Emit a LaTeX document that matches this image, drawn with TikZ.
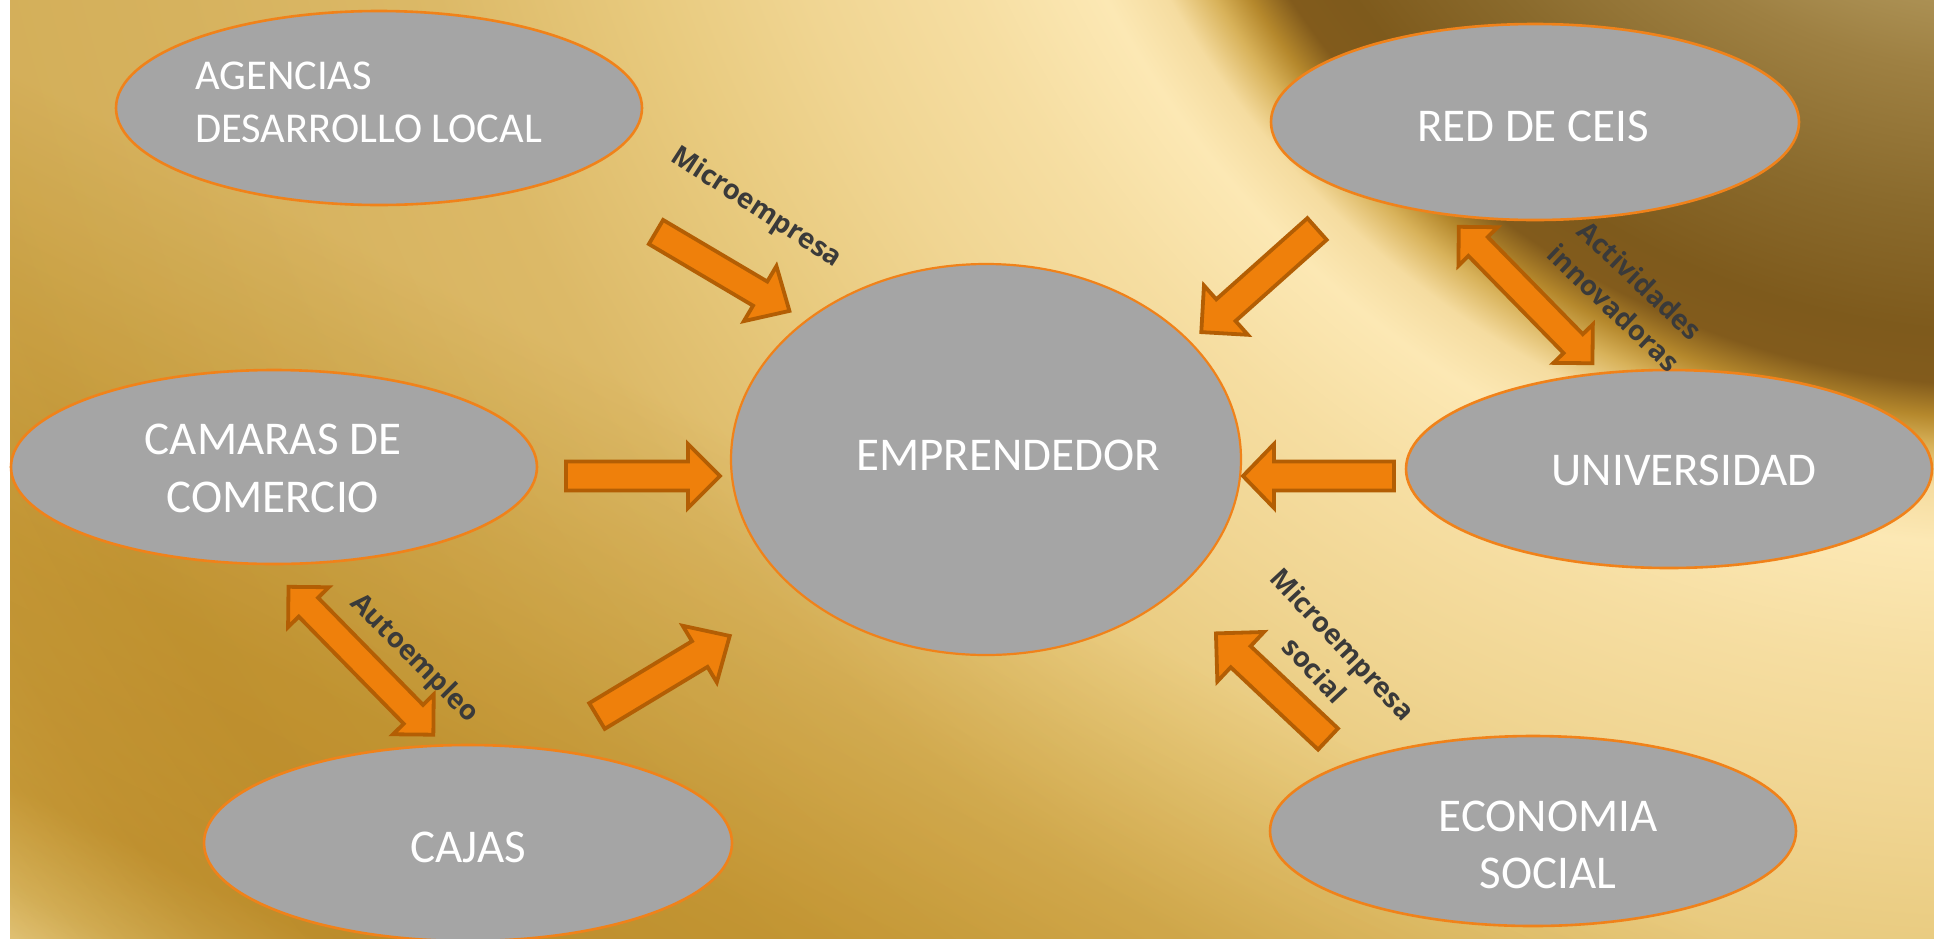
\documentclass[tikz,border=0pt]{standalone}
\usepackage{fontspec}
\setmainfont{Carlito}
\newfontfamily\lblfont{Open Sans}
\usetikzlibrary{shapes.geometric}
\definecolor{ellfill}{HTML}{A5A5A5}
\definecolor{elledge}{HTML}{F0821A}
\definecolor{arrfill}{HTML}{EF800B}
\definecolor{arredge}{HTML}{B35E04}
\definecolor{lblcol}{HTML}{3A3A3A}
% radial background stops
\definecolor{rA}{HTML}{C6AE74}
\definecolor{rB}{HTML}{B39A5E}
\definecolor{rC}{HTML}{9E8042}
\definecolor{rD}{HTML}{8A6A2C}
\definecolor{rE}{HTML}{7E5A1C}
\definecolor{rF}{HTML}{825B1C}
\definecolor{rG}{HTML}{B5882C}
\definecolor{rH}{HTML}{D8B25A}
\definecolor{rI}{HTML}{F5DCA0}
\definecolor{rJ}{HTML}{FCE8B4}
\definecolor{rK}{HTML}{F6DEA2}
\definecolor{rL}{HTML}{F0D592}
\definecolor{rM}{HTML}{E8CA7E}
\definecolor{rN}{HTML}{DCB967}
\definecolor{rO}{HTML}{D6B25E}
\definecolor{rP}{HTML}{D3AE58}
\definecolor{rQ}{HTML}{D8B564}
\definecolor{rR}{HTML}{E6C882}
\definecolor{rS}{HTML}{E8CA86}
% multiply overlay stops
\definecolor{mA}{RGB}{250,248,232}
\definecolor{mB}{RGB}{238,228,180}
\definecolor{mC}{RGB}{226,204,122}
\definecolor{mD}{RGB}{232,214,140}
\definecolor{mE}{RGB}{244,236,200}
\definecolor{mF}{RGB}{255,255,255}
\pgfdeclareradialshading{bgrad}{\pgfpoint{0bp}{0bp}}{%
color(0bp)=(rA); color(4.5bp)=(rB); color(5.6bp)=(rC); color(7bp)=(rD);
color(8.2bp)=(rE); color(8.72bp)=(rF); color(9.05bp)=(rG); color(9.35bp)=(rH);
color(9.75bp)=(rI); color(10.3bp)=(rJ); color(11.5bp)=(rK); color(13bp)=(rL);
color(14.5bp)=(rM); color(16.5bp)=(rN); color(19bp)=(rO); color(21.5bp)=(rP);
color(23bp)=(rQ); color(24.7bp)=(rR); color(25bp)=(rS); color(50bp)=(rS)}
\pgfdeclarehorizontalshading{bgmul}{100bp}{%
color(0bp)=(mA); color(30.61bp)=(mA); color(31.75bp)=(mB); color(33.8bp)=(mC);
color(38.8bp)=(mD); color(44.02bp)=(mE); color(48.34bp)=(mF); color(100bp)=(mF)}
\newcommand\blkarrow[6]{%
  \draw[blockarrow, shift={(#1)}, rotate=#2]
    (0,{-#4/2}) -- ({#3-#6},{-#4/2}) -- ({#3-#6},{-#5/2}) -- (#3,0)
    -- ({#3-#6},{#5/2}) -- ({#3-#6},{#4/2}) -- (0,{#4/2}) -- cycle;}
\newcommand\dblarrow[6]{%
  \draw[blockarrow, shift={(#1)}, rotate=#2]
    (0,0) -- (#6,{-#5/2}) -- (#6,{-#4/2}) -- ({#3-#6},{-#4/2}) -- ({#3-#6},{-#5/2})
    -- (#3,0) -- ({#3-#6},{#5/2}) -- ({#3-#6},{#4/2}) -- (#6,{#4/2}) -- (#6,{#5/2}) -- cycle;}
\begin{document}
\begin{tikzpicture}[x=1pt,y=-1pt,
  ell/.style={ellipse, draw=elledge, fill=ellfill, line width=2.6pt, inner sep=0pt},
  eltext/.style={text=white, font=\fontsize{47}{57}\selectfont, inner sep=0pt, anchor=base},
  smalltext/.style={text=white, font=\fontsize{42.5}{52}\selectfont, inner sep=0pt, anchor=base west},
  lbltext/.style={text=lblcol, font=\lblfont\bfseries\fontsize{27.5}{38}\selectfont, align=center, inner sep=0pt},
  blockarrow/.style={draw=arredge, fill=arrfill, line width=3.8pt, line join=miter}]
\useasboundingbox (0,0) rectangle (1934,938);
\fill[white] (0,0) rectangle (1934,938);
\begin{pgfinterruptboundingbox}
\begin{scope}
  \clip (10,0) rectangle (1934,938);
  \shade[shading=bgrad] (2015,-486) circle (2500);
\end{scope}
\begin{scope}[blend mode=multiply]
  \clip (10,0) rectangle (1934,938);
  \shade[shading=bgmul, shading angle=63.4] (-133,-631) rectangle (2067,1569);
\end{scope}
\end{pgfinterruptboundingbox}

% ellipses
\node[ell, minimum width=526pt, minimum height=194pt] (agen) at (379,108) {};
\node[ell, minimum width=528pt, minimum height=196pt] (red) at (1535,122) {};
\node[ell, minimum width=526pt, minimum height=194pt] (cam) at (274,467) {};
\node[ell, minimum width=510pt, minimum height=391pt, line width=2.2pt] (emp) at (986,459.5) {};
\node[ell, minimum width=526pt, minimum height=198pt] (univ) at (1669,469) {};
\node[ell, minimum width=528pt, minimum height=196pt] (cajas) at (468,843) {};
\node[ell, minimum width=526pt, minimum height=190pt] (econ) at (1533,831) {};

% ellipse texts
\node[smalltext] (tagen1) at (195,89) {AGENCIAS};
\node[smalltext] (tagen2) at (195,142) {DESARROLLO LOCAL};
\node[eltext] (tred) at (1533,141) {RED DE CEIS};
\node[eltext] (tcam1) at (273,454) {CAMARAS DE};
\node[eltext] (tcam2) at (273,512) {COMERCIO};
\node[eltext] (temp) at (1008,470) {EMPRENDEDOR};
\node[eltext] (tuniv) at (1684,485) {UNIVERSIDAD};
\node[eltext] (tcajas) at (468,862) {CAJAS};
\node[eltext] (tecon1) at (1548,831) {ECONOMIA};
\node[eltext] (tecon2) at (1548,888) {SOCIAL};

% block arrows
\coordinate (a1) at (656,232);
\coordinate (a2) at (1317,229);
\coordinate (a3) at (566,476);
\coordinate (a4) at (1394,476);
\coordinate (a5) at (597,716);
\coordinate (a6) at (1328,739);
\coordinate (d1) at (1458.8,226.8);
\coordinate (d2) at (288.5,586.8);
\blkarrow{a1}{-30.6}{155}{28}{64}{34}
\blkarrow{a2}{-138.3}{155}{29}{66}{33}
\blkarrow{a3}{0}{154}{29}{64}{32}
\blkarrow{a4}{180}{151}{29}{64}{31}
\blkarrow{a5}{31.1}{155}{30}{66}{35}
\blkarrow{a6}{136.7}{154}{29}{68}{34}
\dblarrow{d1}{-45.6}{191}{27}{55}{27.5}
\dblarrow{d2}{-45.6}{207}{27}{57}{28.5}

% labels
\node[lbltext, rotate=-33] (l1) at (756,208) {Microempresa};
\node[lbltext, rotate=-43.5] (l2) at (1627,294) {Actividades\\innovadoras};
\node[lbltext, rotate=-45] (l3) at (414,659) {Autoempleo};
\node[lbltext, rotate=-47] (l4) at (1329,657) {Microempresa\\social};
\end{tikzpicture}
\end{document}
